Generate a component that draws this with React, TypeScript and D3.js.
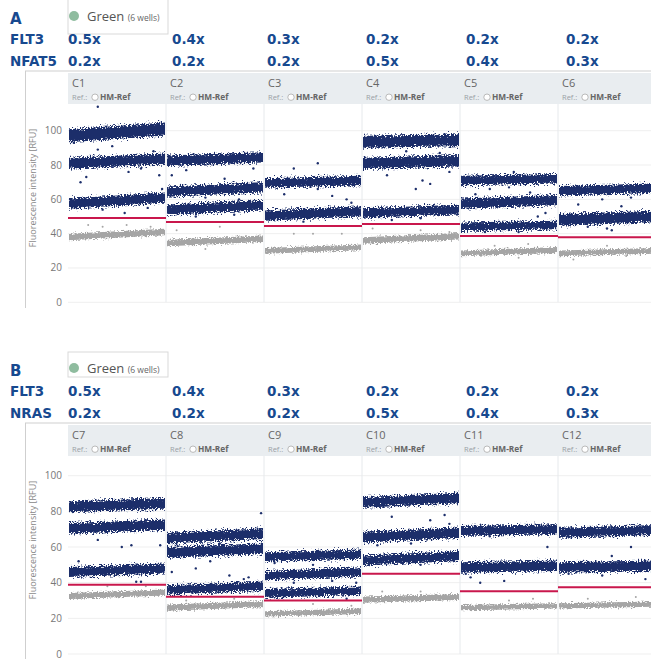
import React from 'react';
import * as d3 from 'd3';

// wells per panel
const WELLS_A = ["C1", "C2", "C3", "C4", "C5", "C6"];
const WELLS_B = ["C7", "C8", "C9", "C10", "C11", "C12"];
const PARTNER_GENES = ["NFAT5", "NRAS"];
const FLT3_RATIO = ["0.5x", "0.4x", "0.3x", "0.2x", "0.2x", "0.2x"];
const PARTNER_RATIO = ["0.2x", "0.2x", "0.2x", "0.5x", "0.4x", "0.3x"];
const Y_TICKS = [0, 20, 40, 60, 80, 100];

// positive droplet bands per well: [level at start, level at end, half width] (RFU)
const POS_BANDS: Record<string, number[][]> = {
  C1: [[97, 101, 3.8], [81, 83.5, 3.2], [57.5, 61, 3]],
  C2: [[82.5, 84.5, 3], [64.5, 67, 3], [54, 56.5, 3]],
  C3: [[69.5, 71, 2.8], [50.5, 53, 3]],
  C4: [[93.5, 94.5, 3.5], [81, 82.5, 3.3], [52, 54, 2.8]],
  C5: [[71, 72, 2.8], [57.5, 59.5, 3], [44, 45, 2.5]],
  C6: [[65, 66.5, 2.8], [48, 50, 3.4]],
  C7: [[82.5, 84.5, 3], [70.5, 72.5, 3], [46, 48, 2.8]],
  C8: [[65, 67.5, 3], [57, 59, 3], [36, 38, 2.6]],
  C9: [[54.5, 56, 2.6], [44, 46, 2.6], [34, 35.5, 2.4]],
  C10: [[85, 87.5, 3], [65.5, 68, 3], [52.5, 55, 2.8]],
  C11: [[69, 70, 2.8], [48.5, 49.5, 3]],
  C12: [[68, 69.5, 2.8], [48.5, 49.5, 3]],
};

// negative droplet band per well
const NEG_BANDS: Record<string, number[]> = {
  C1: [38, 41, 2], C2: [34.5, 37, 2], C3: [30, 32, 1.8], C4: [36, 38.5, 2],
  C5: [28.5, 30.5, 1.8], C6: [28.5, 30, 1.8], C7: [32.5, 34.5, 1.8], C8: [26, 28, 1.8],
  C9: [22.5, 24, 1.6], C10: [30.5, 32, 1.8], C11: [26, 27, 1.6], C12: [27, 28, 1.6],
};

const THRESHOLDS: Record<string, number> = {
  C1: 49.1, C2: 46.8, C3: 44.5, C4: 45.6, C5: 38.6, C6: 37.9,
  C7: 38.9, C8: 32.1, C9: 30, C10: 45, C11: 35.2, C12: 37.4,
};

// scattered "rain" droplets: [position in well 0..1, RFU]
const POS_RAIN: Record<string, number[][]> = {
  C1: [[0.05, 93], [0.12, 70], [0.18, 73], [0.3, 89], [0.45, 91], [0.62, 76], [0.75, 78], [0.88, 88], [0.94, 74], [0.97, 66], [0.35, 54], [0.58, 52], [0.82, 55], [0.3, 114]],
  C2: [[0.05, 74], [0.2, 77], [0.4, 61], [0.6, 72], [0.75, 60], [0.9, 78], [0.3, 50], [0.7, 51]],
  C3: [[0.2, 63], [0.3, 78], [0.55, 66], [0.55, 81], [0.7, 62], [0.85, 60], [0.4, 47], [0.9, 58]],
  C4: [[0.25, 74], [0.55, 66], [0.62, 71], [0.7, 69], [0.9, 76], [0.45, 88], [0.8, 87], [0.3, 48], [0.6, 49]],
  C5: [[0.15, 63], [0.3, 66], [0.5, 67], [0.72, 64], [0.88, 52], [0.25, 41], [0.6, 41], [0.8, 50], [0.55, 76]],
  C6: [[0.2, 57], [0.45, 60], [0.65, 56], [0.75, 61], [0.3, 44], [0.5, 43], [0.55, 42]],
  C7: [[0.1, 52], [0.3, 64], [0.55, 60], [0.65, 61], [0.8, 75], [0.95, 61], [0.7, 40.5], [0.75, 40.5]],
  C8: [[0.05, 46], [0.3, 48], [0.45, 52], [0.65, 44], [0.8, 42], [0.85, 43], [0.98, 79], [0.55, 62], [0.35, 63]],
  C9: [[0.1, 51], [0.3, 40], [0.5, 50], [0.7, 41], [0.85, 31], [0.95, 40]],
  C10: [[0.15, 61], [0.3, 77], [0.5, 62], [0.7, 75], [0.85, 78], [0.9, 73], [0.6, 50]],
  C11: [[0.05, 45], [0.1, 43], [0.2, 40], [0.45, 41], [0.7, 52], [0.9, 60], [0.3, 66]],
  C12: [[0.1, 45], [0.25, 47], [0.45, 44], [0.55, 55], [0.75, 60], [0.85, 47], [0.9, 42]],
};

const NEG_RAIN: Record<string, number[][]> = {
  C1: [[0.2, 45], [0.35, 44], [0.6, 45], [0.85, 44]],
  C2: [[0.1, 42], [0.4, 31], [0.55, 44]],
  C3: [[0.3, 40], [0.5, 40], [0.8, 40]],
  C4: [[0.1, 43], [0.6, 42], [0.9, 41]],
  C5: [[0.35, 33], [0.6, 26], [0.7, 34]],
  C6: [[0.15, 25], [0.5, 33], [0.7, 27]],
  C7: [[0.4, 38], [0.8, 38]],
  C8: [[0.2, 30], [0.7, 31]],
  C9: [[0.5, 28], [0.9, 27]],
  C10: [[0.2, 35], [0.6, 35]],
  C11: [[0.5, 30], [0.75, 31]],
  C12: [[0.3, 31], [0.8, 32]],
};

const NAVY = "#1d2f6b";
const GREY = "#a5a5a5";
const RED = "#c9174c";
const TITLE = "#17498f";
const FONT = "'Open Sans', sans-serif";
const BOLD = "'DejaVu Sans', sans-serif";

const PANELS = [
  { title: "A", wells: WELLS_A, gene: PARTNER_GENES[0], off: 0, yZero: 302.3, yTop: 130.7, boxTop: -1, boxH: 35, bottom: 308 },
  { title: "B", wells: WELLS_B, gene: PARTNER_GENES[1], off: 352, yZero: 654, yTop: 475.7, boxTop: 352, boxH: 25, bottom: 659 },
];

const RATIO_NUDGE = [0, 6, 3, 4, 6, 8];

function Panel({ p }: { p: typeof PANELS[number] }) {
  const o = p.off;
  const x = d3.scaleBand().domain(p.wells).range([68, 656]).padding(0);
  const y = d3.scaleLinear().domain([0, 100]).range([p.yZero, p.yTop]);
  const bw = x.bandwidth();

  const within = (w: string) => d3.scaleLinear().domain([0, 1]).range([x(w)! + 1, x(w)! + bw - 1]);

  const bandPath = (w: string, b: number[], k: number) => {
    const t = within(w);
    const pts = [[0, b[0]], [1, b[1]]];
    return d3.area<number[]>()
      .x(d => t(d[0]))
      .y0(d => y(d[1] - b[2] * k))
      .y1(d => y(d[1] + b[2] * k))(pts) || "";
  };

  return (
    <g>
      {/* header texts */}
      <text x={10} y={o + 24} fontFamily={BOLD} fontWeight="bold" fontSize={15} fill={TITLE}>{p.title}</text>
      <rect x={68} y={p.boxTop} width={100} height={p.boxH} fill="#fff" stroke="#d9d9d9" />
      <circle cx={74} cy={o + 16} r={5} fill="#8fbc9f" />
      <text x={87} y={o + 21} fontFamily={FONT} fontSize={13} fill="#555">
        Green <tspan fontSize={8.5} fill="#666">(6 wells)</tspan>
      </text>
      <text x={10} y={o + 44} fontFamily={BOLD} fontWeight="bold" fontSize={13.5} fill={TITLE}>FLT3</text>
      <text x={10} y={o + 66} fontFamily={BOLD} fontWeight="bold" fontSize={13.5} fill={TITLE}>{p.gene}</text>
      {p.wells.map((w, i) => (
        <g key={w}>
          <text x={x(w)! + RATIO_NUDGE[i]} y={o + 44} fontFamily={BOLD} fontWeight="bold" fontSize={13.5} fill={TITLE}>{FLT3_RATIO[i]}</text>
          <text x={x(w)! + RATIO_NUDGE[i]} y={o + 66} fontFamily={BOLD} fontWeight="bold" fontSize={13.5} fill={TITLE}>{PARTNER_RATIO[i]}</text>
        </g>
      ))}

      {/* frame */}
      <line x1={25} x2={651} y1={o + 71} y2={o + 71} stroke="#cfcfcf" />
      <line x1={25.5} x2={25.5} y1={o + 71} y2={p.bottom} stroke="#cfcfcf" />
      <rect x={68} y={o + 73} width={583} height={31} fill="#e9edf0" />
      {p.wells.map(w => (
        <g key={w} fontFamily={FONT}>
          <text x={x(w)! + 4} y={o + 87} fontSize={11} fill="#666">{w}</text>
          <text x={x(w)! + 4} y={o + 100} fontSize={7.5} fill="#9aa0a6">Ref.:</text>
          <circle cx={x(w)! + 27} cy={o + 97.2} r={3.2} fill="#fff" stroke="#aaa" strokeWidth={0.8} />
          <text x={x(w)! + 32} y={o + 100} fontSize={8.3} fontWeight="bold" fill="#666">HM-Ref</text>
        </g>
      ))}

      {/* grid */}
      {Y_TICKS.map(t => (
        <g key={t}>
          <line x1={68} x2={651} y1={y(t)} y2={y(t)} stroke="#efefef" />
          <text x={62} y={y(t) + 3.5} textAnchor="end" fontFamily={FONT} fontSize={10} fill="#777">{t}</text>
        </g>
      ))}
      {p.wells.slice(1).map(w => (
        <line key={w} x1={x(w)!} x2={x(w)!} y1={o + 104} y2={p.yZero} stroke="#e6e9ec" />
      ))}
      <text transform={`translate(36,${o + 188}) rotate(-90)`} textAnchor="middle" fontFamily={FONT} fontSize={9} fill="#888">
        Fluorescence intensity [RFU]
      </text>

      {/* droplet clouds, roughened with a noise filter */}
      <g filter="url(#roughGrey)">
        {p.wells.map(w => <path key={w} d={bandPath(w, NEG_BANDS[w], 0.95)} fill={GREY} />)}
      </g>
      <g filter="url(#roughNavy)">
        {p.wells.map(w => POS_BANDS[w].map((b, i) => (
          <path key={w + i} d={bandPath(w, b, 1.0)} fill={NAVY} />
        )))}
      </g>
      {p.wells.map(w => {
        const t = within(w);
        return (
          <g key={w}>
            {NEG_RAIN[w].map((d, i) => <circle key={i} cx={t(d[0])} cy={y(d[1])} r={1} fill={GREY} />)}
            {POS_RAIN[w].map((d, i) => <circle key={i} cx={t(d[0])} cy={y(d[1])} r={1.2} fill={NAVY} />)}
            <line x1={x(w)!} x2={x(w)! + bw} y1={y(THRESHOLDS[w])} y2={y(THRESHOLDS[w])} stroke={RED} strokeWidth={2} />
          </g>
        );
      })}
    </g>
  );
}

export default function App() {
  return (
    <svg width={651} height={659} style={{ position: 'absolute', left: 0, top: 0, background: '#fff' }}>
      <defs>
        <filter id="roughNavy" x="-2%" y="-5%" width="104%" height="110%" filterUnits="objectBoundingBox">
          <feTurbulence type="fractalNoise" baseFrequency="0.7" numOctaves={2} seed={4} result="noise" />
          <feColorMatrix in="noise" type="matrix" values="0 0 0 0 0.5  0 1 0 0 0  0 0 1 0 0  0 0 0 0 1" result="yOnly" />
          <feDisplacementMap in="SourceGraphic" in2="yOnly" scale={10} xChannelSelector="R" yChannelSelector="G" />
        </filter>
        <filter id="roughGrey" x="-2%" y="-5%" width="104%" height="110%" filterUnits="objectBoundingBox">
          <feTurbulence type="fractalNoise" baseFrequency="0.7" numOctaves={2} seed={9} result="noise" />
          <feColorMatrix in="noise" type="matrix" values="0 0 0 0 0.5  0 1 0 0 0  0 0 1 0 0  0 0 0 0 1" result="yOnly" />
          <feDisplacementMap in="SourceGraphic" in2="yOnly" scale={6} xChannelSelector="R" yChannelSelector="G" />
        </filter>
      </defs>
      <rect width={651} height={659} fill="#fff" />
      {PANELS.map(p => <Panel key={p.title} p={p} />)}
    </svg>
  );
}
